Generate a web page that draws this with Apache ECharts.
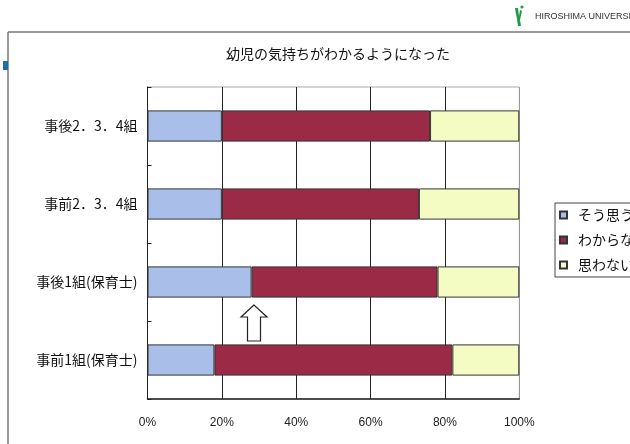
<!DOCTYPE html>
<html><head><meta charset="utf-8">
<script src="https://cdn.jsdelivr.net/npm/echarts@6/dist/echarts.min.js"></script>
<style>html,body{margin:0;padding:0;background:#fff}#c{width:630px;height:444px}</style>
</head><body><div id="c"></div>
<script>
const categories = ['事後2．3．4組', '事前2．3．4組', '事後1組(保育士)', '事前1組(保育士)'];
const seriesNames = ['そう思う', 'わからない', '思わない'];
const agree = [20, 20, 28, 18];
const unsure = [56, 53, 50, 64];
const disagree = [24, 27, 22, 18];
const xTicks = [0, 20, 40, 60, 80, 100];
const title = '幼児の気持ちがわかるようになった';

const colors = ['#a9bee9', '#9b2a47', '#f5fcc3'];
const values = [agree, unsure, disagree];
const font = '"Noto Sans CJK JP", "Liberation Sans", sans-serif';

const chart = echarts.init(document.getElementById('c'), null, {renderer: 'canvas'});
chart.setOption({
  animation: false,
  backgroundColor: '#fff',
  title: {
    text: title, left: 333, top: 42, textAlign: 'center',
    textStyle: {fontSize: 14, fontWeight: 'normal', color: '#111', fontFamily: font}
  },
  grid: {left: 147.5, right: 110.7, top: 87, bottom: 45, show: true, borderColor: '#aaa', borderWidth: 1},
  legend: {
    orient: 'vertical', left: 555, top: 203, padding: [5, 40, 5, 4],
    itemWidth: 7, itemHeight: 7, itemGap: 11, icon: 'rect',
    borderColor: '#444', borderWidth: 1,
    textStyle: {fontSize: 14, color: '#111', fontFamily: font, padding: [0, 0, 0, 6]},
    data: seriesNames
  },
  xAxis: {
    type: 'value', min: xTicks[0], max: xTicks[xTicks.length - 1], interval: 20,
    axisLine: {show: true, lineStyle: {color: '#222', width: 1.5}},
    axisTick: {show: false},
    axisLabel: {formatter: '{value}%', fontSize: 12, color: '#222', margin: 18, fontFamily: '"Liberation Sans", sans-serif'},
    splitLine: {show: true, lineStyle: {color: ['#222', '#222', '#222', '#222', '#222', '#999'], width: 1}}
  },
  yAxis: {
    type: 'category', data: categories, inverse: true,
    axisLine: {show: true, lineStyle: {color: '#222', width: 1}},
    axisTick: {show: true, inside: true, length: 4, lineStyle: {color: '#222'}},
    axisLabel: {fontSize: 14, color: '#111', margin: 10, fontFamily: font}
  },
  series: seriesNames.map((n, i) => ({
    name: n, type: 'bar', stack: 'total', barWidth: '40%',
    data: values[i],
    itemStyle: {color: colors[i], borderColor: '#333', borderWidth: 1}
  })),
  graphic: [
    {type: 'line', shape: {x1: 8, y1: 32, x2: 630, y2: 32}, style: {stroke: '#777', lineWidth: 1.5}, silent: true},
    {type: 'line', shape: {x1: 8, y1: 32, x2: 8, y2: 444}, style: {stroke: '#777', lineWidth: 1.5}, silent: true},
    {type: 'rect', shape: {x: 3, y: 61, width: 5, height: 9}, style: {fill: '#1e6db3'}, silent: true},
    {type: 'polygon', shape: {points: [[254, 305], [241, 317], [247.5, 317], [247.5, 341], [260.5, 341], [260.5, 317], [267, 317]]},
      style: {fill: '#fff', stroke: '#222', lineWidth: 1.2}, silent: true},
    {type: 'polygon', shape: {points: [[515, 8], [518, 8], [519, 16], [520, 10], [522, 11], [520, 20], [521, 26], [518, 26], [517, 19], [516, 14]]},
      style: {fill: '#1f9a4a'}, silent: true},
    {type: 'circle', shape: {cx: 522, cy: 7, r: 1.6}, style: {fill: '#1f9a4a'}, silent: true},
    {type: 'text', left: 535, top: 12, style: {text: 'HIROSHIMA UNIVERSITY', fontSize: 9, fill: '#333', fontFamily: '"Liberation Sans", sans-serif'}, silent: true}
  ]
});
</script></body></html>
